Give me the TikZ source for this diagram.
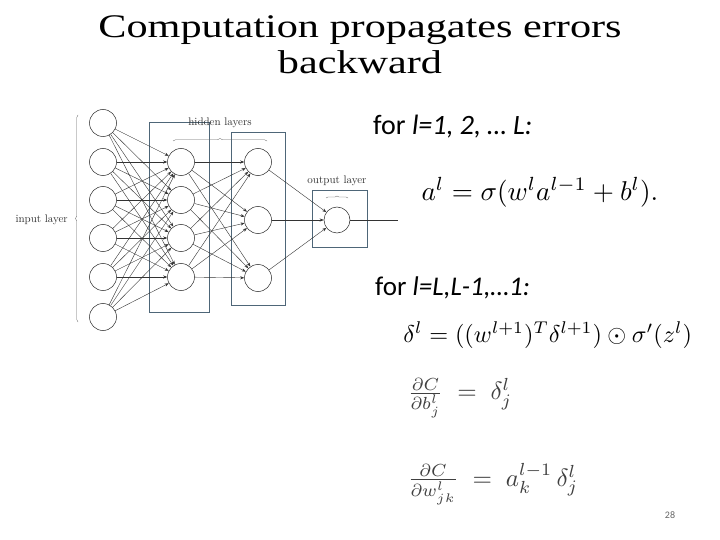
\documentclass[tikz,border=0pt]{standalone}
\usepackage{fontspec}
\usepackage{amsmath}
\setmainfont{Liberation Serif}
\newfontfamily\titlefont[FakeStretch=1.28]{Liberation Serif}
\newfontfamily\bodyfont{Carlito}
\newfontfamily\lmfont{Latin Modern Roman}
\definecolor{boxcol}{RGB}{78,102,120}
\usetikzlibrary{arrows.meta,decorations.pathreplacing}
\begin{document}
\begin{tikzpicture}[x=1pt,y=-1pt,
  neuron/.style={circle,draw=black!85,line width=0.5pt,minimum size=27pt,inner sep=0pt},
  layerbox/.style={draw=boxcol,line width=1pt},
  conn/.style={draw=black!80,line width=0.4pt,-{Stealth[length=4pt,width=3pt]}},
  brc/.style={draw=black!60,line width=0.4pt,decorate,decoration={brace,amplitude=2.5pt}},
  small/.style={font=\lmfont\fontsize{11}{13}\selectfont,text=black!80,inner sep=0pt},
  eq/.style={anchor=west,inner sep=0pt}
]
\useasboundingbox (0,0) rectangle (720,540);
\fill[white] (0,0) rectangle (720,540);
% title
\node[font=\titlefont\fontsize{33}{36}\selectfont,anchor=base] (t1) at (360,38) {Computation propagates errors};
\node[font=\titlefont\fontsize{33}{36}\selectfont,anchor=base] (t2) at (360,74) {backward};
% layer boxes
\draw[layerbox] (149,123) rectangle (209,312);
\draw[layerbox] (231,133) rectangle (285,305);
\draw[layerbox] (312,191) rectangle (367,247);
% neurons
\foreach \i/\y in {1/123,2/162,3/200,4/238,5/277,6/317}
  \node[neuron] (i\i) at (103,\y) {};
\foreach \i/\y in {1/162,2/200,3/238,4/277}
  \node[neuron] (h\i) at (181,\y) {};
\foreach \i/\y in {1/162,2/220,3/278}
  \node[neuron] (g\i) at (258,\y) {};
\node[neuron,minimum size=26pt] (o) at (337,220) {};
\coordinate (out) at (398,220);
% connections
\foreach \a in {1,...,6}
  \foreach \b in {1,...,4}
    \draw[conn] (i\a) -- (h\b);
\foreach \a in {1,...,4}
  \foreach \b in {1,...,3}
    \draw[conn] (h\a) -- (g\b);
\foreach \a in {1,...,3}
  \draw[conn] (g\a) -- (o);
\draw[draw=black!80,line width=0.4pt] (o) -- (out);
% braces and labels
\coordinate (ib1) at (78,322);
\coordinate (ib2) at (78,115);
\draw[brc] (ib1) -- (ib2);
\node[small,anchor=east] (il) at (68,220) {input layer};
\coordinate (hb1) at (173,141);
\coordinate (hb2) at (267,141);
\draw[brc] (hb1) -- (hb2);
\node[small] (hl) at (220,123) {hidden layers};
\coordinate (ob1) at (326,198);
\coordinate (ob2) at (348,198);
\draw[brc,decoration={brace,amplitude=2pt}] (ob1) -- (ob2);
\node[small] (ol) at (337,181) {output layer};
% text
\node[anchor=base west,font=\bodyfont\fontsize{28}{32}\selectfont,inner sep=0pt] (f1) at (373,135) {for \textit{l=1, 2, … L:}};
\node[anchor=base west,font=\bodyfont\fontsize{27}{32}\selectfont,inner sep=0pt] (f2) at (375,295) {for \textit{l=L,L-1,…1:}};
% equations
\node[eq,scale=2.72] (e1) at (421,192) {$a^l = \sigma(w^l a^{l-1}+b^l).$};
\node[eq,scale=2.43] (e2) at (403,335) {$\delta^l = ((w^{l+1})^T\delta^{l+1})\odot\sigma'(z^l)$};
\node[eq,scale=2.5,text=black!75] (e3) at (407,398) {$\frac{\partial C}{\partial b^l_j} \;=\; \delta^l_j$};
\node[eq,scale=2.5,text=black!75] (e4) at (407,484) {$\frac{\partial C}{\partial w^l_{jk}} \;=\; a^{l-1}_k\,\delta^l_j$};
% page number
\node[font=\bodyfont\fontsize{10}{12}\selectfont,text=black!60] (pn) at (670,515) {28};
\end{tikzpicture}
\end{document}
